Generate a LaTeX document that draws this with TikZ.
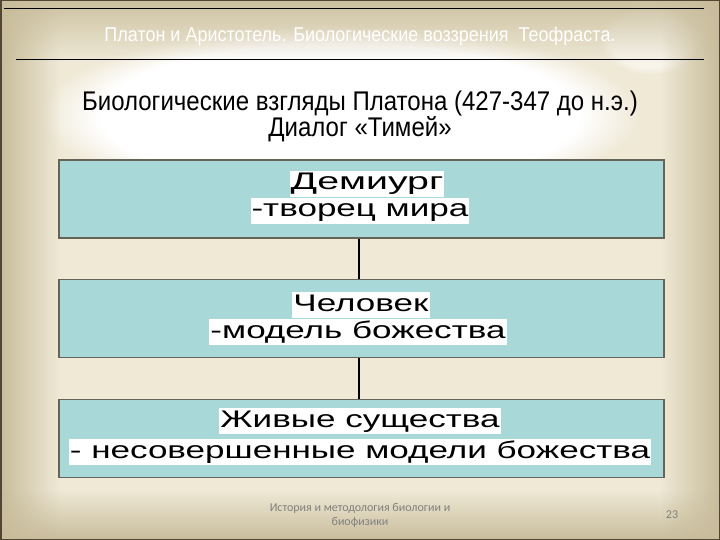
\documentclass[tikz,border=0pt]{standalone}
\usepackage{fontspec}
\usetikzlibrary{fadings}
\setmainfont{Liberation Sans}
\newfontfamily\titlefont[FakeStretch=0.9]{Liberation Sans}
\newfontfamily\narrowfont[FakeStretch=0.89]{Liberation Sans}
\newfontfamily\widefont[FakeStretch=1.46]{Liberation Sans}
\newfontfamily\footfont{Carlito}
\definecolor{tanc}{RGB}{200,188,155}
\definecolor{creamc}{RGB}{239,233,214}
\definecolor{boxfill}{RGB}{168,216,216}
\definecolor{boxline}{RGB}{100,100,88}
\definecolor{framec}{RGB}{80,70,52}
\definecolor{footc}{RGB}{128,128,128}
\tikzset{
  bluebox/.style={draw=boxline, line width=1.6pt, fill=boxfill, minimum width=605pt, minimum height=78pt, inner sep=0pt},
  hl/.style={fill=white, inner xsep=1pt, inner ysep=0pt, text height=19pt, text depth=7pt, font=\widefont\fontsize{24}{24}\selectfont, text=black},
  conn/.style={draw=black, line width=2.8pt},
  rule/.style={draw=black, line width=1pt},
  foot/.style={text=footc, font=\footfont\fontsize{12}{14}\selectfont, align=center, inner sep=0pt}
}
\begin{document}
\begin{tikzpicture}[x=1pt,y=-1pt]
\useasboundingbox (0,0) rectangle (720,540);
\fill[creamc] (0,0) rectangle (720,540);
\fill[white, path fading=circle with fuzzy edge 20 percent] (340,115) ellipse (300 and 90);
\fill[white, opacity=0.5, path fading=circle with fuzzy edge 20 percent] (650,40) ellipse (50 and 35);
\fill[tanc, path fading=east] (0,0) rectangle (60,540);
\fill[tanc, path fading=west] (660,0) rectangle (720,540);
\fill[tanc, path fading=north] (0,490) rectangle (720,540);
\fill[tanc, opacity=0.9, path fading=south] (0,0) rectangle (720,62);
\draw[draw=framec, line width=1.5pt] (0.75,0.75) rectangle (719.25,539.25);
\draw[rule] (4,9) -- (704,9);
\draw[rule] (16,60) -- (704,60);
\node[anchor=base, text=white, font=\titlefont\fontsize{20}{20}\selectfont, inner sep=0pt] (title) at (360,42) {Платон и Аристотель. Биологические воззрения\ \ Теофраста.};
\node[anchor=base, text=black, font=\narrowfont\fontsize{27}{27}\selectfont, inner sep=0pt] (sub1) at (360,111) {Биологические взгляды Платона (427-347 до н.э.)};
\node[anchor=base, text=black, font=\narrowfont\fontsize{27}{27}\selectfont, inner sep=0pt] (sub2) at (360,137) {Диалог «Тимей»};
\node[bluebox] (b1) at (361.5,199) {};
\node[bluebox] (b2) at (361.5,318.5) {};
\node[bluebox] (b3) at (361.5,438.5) {};
\node[hl] (t1a) at (367,184) {\scalebox{1.12}[1]{Демиург}};
\node[hl] (t1b) at (360,211) {-творец мира};
\node[hl] (t2a) at (361,305) {Человек};
\node[hl] (t2b) at (358,332) {-модель божества};
\node[hl] (t3a) at (360,421) {Живые существа};
\node[hl] (t3b) at (360,452) {- несовершенные модели божества};
\draw[conn] ([xshift=-2.5pt]b1.south) -- ([xshift=-2.5pt]b2.north);
\draw[conn] ([xshift=-2.5pt]b2.south) -- ([xshift=-2.5pt]b3.north);
\node[foot] (foot) at (360,515) {История и методология биологии и\\биофизики};
\node[foot] (page) at (672,515) {23};
\end{tikzpicture}
\end{document}
